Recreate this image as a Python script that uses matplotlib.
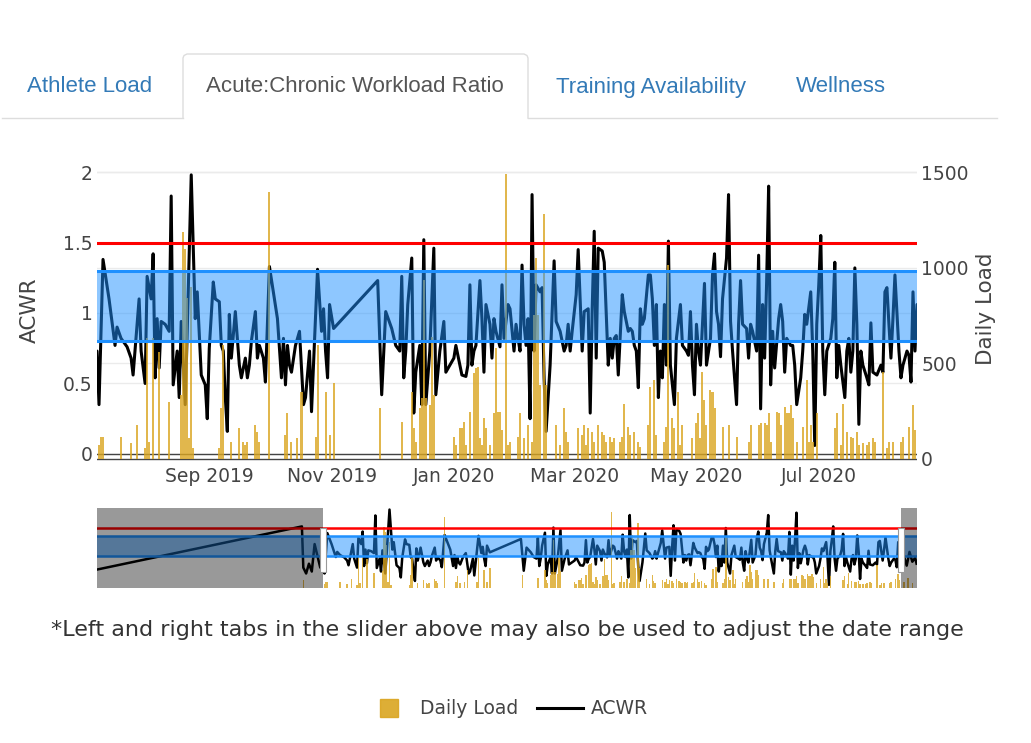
import numpy as np
import pandas as pd
import matplotlib
matplotlib.use('Agg')
import matplotlib.pyplot as plt
import matplotlib.dates as mdates
from matplotlib.patches import Rectangle
from matplotlib.lines import Line2D
from matplotlib.transforms import blended_transform_factory as blend

# dates are stored as day offsets from this base date
base_date = pd.Timestamp('2019-07-07')

acwr_days = [-160, -15, -14, -12, -10, -8, -6, -4, -2,
             0, 1, 3, 6, 9, 10, 12, 15, 17, 18, 21, 22, 24, 25, 27, 28, 29, 30, 31, 32,
             34, 36, 37, 38, 40, 41, 42, 44, 45, 47, 49, 50, 52, 54, 55, 56, 58, 59, 61, 62,
             63, 64, 65, 66, 67, 69, 71, 72, 74, 75, 76, 77, 79, 80, 81, 83, 84, 86, 90, 92,
             93, 94, 95, 96, 97, 99, 101, 103,
             104, 106, 107, 110, 112, 113, 114, 115, 116, 118, 140, 142, 144, 147, 149, 151,
             152, 153, 154, 155, 157, 158, 159, 161, 162, 163, 164, 166, 168, 169, 171, 173,
             174, 176, 178, 179, 181, 182, 184, 185, 186, 187, 188, 189, 191, 192, 193, 194,
             196, 197, 198, 199, 201, 202, 203, 205,
             206, 208, 209, 210, 211, 212, 213, 214, 215, 216, 217, 218, 219, 221, 222, 223,
             224, 226, 228, 229, 231, 233, 234, 235, 236, 237, 239, 240, 242, 243, 245, 246,
             247, 248, 249, 250, 252, 253, 255, 256, 257, 258, 259, 260, 262, 263, 265, 266,
             267, 268, 269, 270, 271, 272, 273, 275, 276, 277, 278, 279, 280, 281, 282, 283,
             284, 285, 286, 288, 289, 291, 292, 294, 295, 296, 297, 298, 299, 300, 301, 303,
             304, 306, 307,
             308, 309, 310, 311, 312, 314, 315, 316, 317, 319, 320, 321, 322, 324, 325, 326,
             327, 329, 330, 331, 332, 333, 334, 335, 336, 337, 338, 340, 341, 342, 343, 344,
             346, 347, 348, 349, 351, 352, 353, 354, 356, 357, 358, 359, 360, 361, 362, 363,
             364, 366, 367, 368, 369, 370, 371, 373, 374, 375, 376, 377, 378, 379, 380, 381,
             382, 384, 385, 386, 387, 389, 391, 392, 393, 394, 395, 396, 397, 398, 400, 401,
             402, 403, 404, 405, 406, 407, 408, 409, 411, 413, 415, 417, 419, 420]
acwr_vals = [0.45, 1.55, 0.50, 0.35, 0.60, 0.40, 1.10, 0.80, 0.50,
             0.73, 0.35, 1.38, 1.10, 0.77, 0.90, 0.82, 0.76, 0.68, 0.56, 1.10, 0.73, 0.50, 1.26,
             1.10, 1.42, 0.54, 0.96, 0.61, 0.94, 0.92, 0.87, 1.83, 0.49, 0.73, 0.40, 0.94, 0.35,
             0.87, 1.98, 0.96, 1.15, 0.56, 0.49, 0.25, 0.75, 1.22, 1.10, 1.08, 0.77, 0.73, 0.40,
             0.16, 0.99, 0.68, 1.01, 0.63, 0.54, 0.68, 0.54, 0.63, 0.80, 1.01, 0.68, 0.77, 0.68,
             0.51, 1.33, 0.96, 0.54, 0.82, 0.49, 0.77, 0.63, 0.58, 0.77, 0.87, 0.35,
             0.40, 0.73, 0.30, 1.31, 0.87, 1.03, 0.73, 0.54, 1.06, 0.89, 1.23, 0.42, 1.01, 0.89,
             0.77, 0.73, 1.26, 0.54, 0.73, 1.06, 1.39, 0.29, 0.58, 0.77, 0.35, 1.52, 0.35, 0.73,
             1.46, 0.42, 0.73, 0.94, 0.58, 0.63, 0.68, 0.77, 0.63, 0.56, 0.55, 0.63, 1.20, 0.63,
             0.73, 0.77, 1.23, 0.96, 0.58, 1.06, 0.92, 0.68, 0.96, 0.87, 0.76, 1.20, 0.82, 1.06,
             1.03, 0.73, 0.92, 0.82, 0.73, 1.34, 0.92, 0.77, 0.96, 0.25, 1.84, 0.73, 1.20, 1.15,
             1.18, 0.54, 0.16, 0.63, 1.37, 0.94, 0.87, 0.73, 0.77, 0.92, 0.73, 0.87, 1.13, 1.45,
             0.73, 1.01, 1.03, 0.29, 1.03, 1.58, 0.68, 1.46, 1.44, 1.36, 0.63, 0.82, 0.68, 0.82,
             0.84, 0.56, 1.13, 1.01, 0.87, 0.89, 0.87, 0.77, 0.73, 0.47, 1.03, 0.92, 0.96, 1.27,
             1.27, 1.10, 0.77, 1.06, 0.40, 0.73, 0.54, 1.06, 0.63, 1.51, 0.63, 0.35, 0.82, 1.06,
             0.77, 0.73, 0.70, 1.01, 0.63, 0.42, 0.92, 0.73, 0.63, 1.21, 0.63, 0.82, 1.27,
             1.42, 1.01, 0.92, 0.69, 1.10, 1.39, 1.84, 0.94, 0.73, 0.35, 0.92, 1.23, 0.92, 0.89,
             0.68, 0.92, 0.87, 0.73, 1.41, 0.32, 1.06, 0.68, 1.22, 1.90, 0.49, 0.87, 0.61, 0.96,
             1.06, 0.94, 0.58, 0.82, 0.77, 0.77, 0.63, 0.35, 0.54, 0.73, 0.99, 0.92, 1.15, 0.73,
             0.06, 0.92, 1.20, 1.55, 0.73, 0.42, 0.73, 0.82, 0.96, 1.36, 0.54, 0.77, 0.63, 0.40,
             0.73, 0.82, 0.58, 0.73, 1.32, 0.92, 0.21, 0.73, 0.63, 0.54, 0.49, 0.93, 0.58, 0.56,
             0.63, 0.58, 1.15, 1.18, 0.92, 0.68, 0.96, 1.27, 0.73, 0.54, 0.63, 0.68, 0.73, 0.70,
             0.51, 1.15, 0.73, 1.06, 0.80, 0.55, 0.90, 0.65, 0.75, 0.60]

load_days = [-14, 1, 2, 3, 12, 17, 20, 24, 25, 26, 28, 31, 36, 42, 43, 44, 45, 46, 47, 48,
             61, 62, 63, 67, 71, 73, 74, 75, 79, 80, 81, 86, 94, 95, 97, 100, 102,
             109, 110, 114, 116, 118, 141, 152, 157, 158, 159, 161, 162, 163, 164, 166, 167,
             168, 178, 179, 181, 182, 183, 184, 186, 188, 189, 190, 191, 192, 193, 194, 196,
             198, 199, 200, 201, 202, 204, 205,
             206, 210, 211, 213, 215, 217, 218, 219, 220, 221, 223, 224, 229, 231, 233, 234,
             235, 240, 242, 243, 244, 245, 247, 248, 250, 252, 253, 254, 256, 257, 258, 261,
             262, 263, 265, 266, 268, 270, 271, 275, 276, 278, 279, 283, 284, 285, 287, 288,
             290, 291, 292, 297, 299, 300, 301, 302, 303, 304, 306, 307,
             308, 312, 315, 319, 325, 326, 330, 331, 333, 334, 335, 336, 339, 340, 341, 343,
             344, 345, 346, 347, 349, 352, 354, 355, 356, 357, 359, 368, 369, 371, 372, 374,
             376, 377, 379, 380, 382, 384, 385, 387, 388, 392, 394, 395, 397, 401, 402, 405,
             407, 408, 411, 414, 417]
load_vals = [150, 75, 116, 116, 116, 82, 177, 55, 630, 90, 630, 560, 299, 334, 1188, 1100,
             840, 108, 900, 55, 55, 264, 595, 90, 160, 90, 73, 90, 177, 143, 90, 1397, 125,
             238, 90, 108, 351,
             116, 595, 351, 125, 395, 264, 195, 351, 160, 90, 264, 317, 935, 317, 282, 639,
             334, 116, 73, 160, 160, 195, 73, 247, 447, 473, 482, 108, 73, 212, 160, 73,
             238, 578, 247, 247, 151, 1492, 73,
             90, 116, 238, 108, 177, 90, 752, 1048, 752, 386, 1283, 386, 177, 73, 264, 143,
             90, 160, 125, 177, 73, 160, 143, 90, 177, 143, 125, 90, 116, 90, 108, 90,
             116, 290, 168, 125, 143, 90, 64, 177, 378, 413, 125, 90, 168, 1013, 212, 160,
             351, 73, 177, 108, 186, 238, 108, 456, 308, 177, 360, 351,
             264, 168, 177, 116, 90, 177, 177, 186, 186, 177, 238, 90, 247, 238, 177, 273,
             238, 238, 282, 212, 90, 168, 413, 90, 177, 90, 238, 160, 238, 73, 290, 143,
             116, 108, 143, 73, 82, 73, 90, 108, 90, 456, 55, 90, 90, 90, 116, 168,
             282, 151, 120, 200, 90]

view_start = '2019-07-07'
view_end = '2020-08-19'
x_tick_dates = ['2019-09-01', '2019-11-01', '2020-01-01', '2020-03-01', '2020-05-01', '2020-07-01']
x_tick_labels = ['Sep 2019', 'Nov 2019', 'Jan 2020', 'Mar 2020', 'May 2020', 'Jul 2020']
acwr_ticks = [0, 0.5, 1, 1.5, 2]
acwr_tick_labels = ['0', '0.5', '1', '1.5', '2']
load_ticks = [0, 500, 1000, 1500]
danger_level = 1.5
sweet_spot = (0.8, 1.3)
tabs = ['Athlete Load', 'Acute:Chronic Workload Ratio', 'Training Availability', 'Wellness']

W, H = 1031, 743
GOLD = '#DAA520'
BLUE = '#1E90FF'
TICK = '#444444'
FONT = 'DejaVu Sans'


def to_num(days):
    dates = base_date + pd.to_timedelta(days, unit='D')
    return mdates.date2num(dates.to_pydatetime())


def box(x0, y0, x1, y1):
    return [x0 / W, 1 - y1 / H, (x1 - x0) / W, (y1 - y0) / H]


acwr_x = to_num(acwr_days)
load_x = to_num(load_days)
xs, xe = mdates.datestr2num(view_start), mdates.datestr2num(view_end)

fig = plt.figure(figsize=(W / 100, H / 100), dpi=100)


def draw_panel(a1, a2, lw_line, lw_shape):
    a1.plot(acwr_x, acwr_vals, color='black', lw=lw_line, zorder=3, solid_joinstyle='round')
    a2.bar(load_x, load_vals, width=1.0, color=GOLD, alpha=0.8, lw=0, zorder=2)
    tr = blend(a2.transAxes, a1.transData)
    a2.add_patch(Rectangle((0, sweet_spot[0]), 1, sweet_spot[1] - sweet_spot[0],
                           transform=tr, facecolor=BLUE, alpha=0.5, lw=0, zorder=5))
    for v in sweet_spot:
        a2.plot([0, 1], [v, v], transform=tr, color=BLUE, lw=lw_shape, zorder=6)
    a2.plot([0, 1], [danger_level, danger_level], transform=tr, color='red', lw=lw_shape, zorder=6)
    for a in (a1, a2):
        for s in a.spines.values():
            s.set_visible(False)


# main chart
ax = fig.add_axes(box(97, 165, 917, 461))
ax2 = ax.twinx()
ax.set_ylim(-0.05, 2.05)
ax2.set_ylim(-10.5, 1536.6)
ax.set_xlim(xs, xe)
draw_panel(ax, ax2, 2.2, 2.2)

ax.set_yticks(acwr_ticks, acwr_tick_labels)
ax2.set_yticks(load_ticks, [str(t) for t in load_ticks])
ax.set_xticks(mdates.datestr2num(x_tick_dates), x_tick_labels)
ax.tick_params(axis='both', length=0, labelsize=13.5, labelcolor=TICK, pad=4)
ax.tick_params(axis='y', pad=3)
ax2.tick_params(axis='y', length=0, labelsize=13.5, labelcolor=TICK, pad=3)
ax.grid(axis='y', color='#ebebeb', lw=1)
ax.set_axisbelow(True)
gtr = blend(ax.transAxes, ax2.transData)
for v in load_ticks[1:]:
    ax.plot([0, 1], [v, v], transform=gtr, color='#ebebeb', lw=1, zorder=0.5)
ax.axhline(0, color=TICK, lw=1, zorder=1)
ax2.axhline(0, color=TICK, lw=1, zorder=1)
fig.text(30 / W, 1 - 310 / H, 'ACWR', rotation=90, ha='center', va='center',
         fontsize=15.5, color=TICK, family=FONT)
fig.text(986 / W, 1 - 309 / H, 'Daily Load', rotation=90, ha='center', va='center',
         fontsize=15.5, color=TICK, family=FONT)

# range slider
sax = fig.add_axes(box(97, 508, 917, 588))
sax2 = sax.twinx()
sx0, sx1 = acwr_x.min(), to_num([420.3])[0]
sax.set_xlim(sx0, sx1)
sax.set_ylim(-0.02, 2.02)
sax2.set_ylim(0, 1570)
draw_panel(sax, sax2, 1.8, 1.8)
for a in (sax, sax2):
    a.set_xticks([])
    a.set_yticks([])
mtr = blend(sax2.transData, sax2.transAxes)
sax2.add_patch(Rectangle((sx0, 0), xs - sx0, 1, transform=mtr, facecolor='black',
                         alpha=0.4, lw=0, zorder=8))
sax2.add_patch(Rectangle((xe, 0), sx1 - xe, 1, transform=mtr, facecolor='black',
                         alpha=0.4, lw=0, zorder=8))
hw = 6.5 * (sx1 - sx0) / 820
for hx in (xs, xe):
    sax2.add_patch(Rectangle((hx - hw / 2, 0.2), hw, 0.55, transform=mtr, facecolor='white',
                             edgecolor='#999999', lw=0.8, zorder=9, clip_on=False))

# tabs, note and legend drawn in pixel space
oax = fig.add_axes([0, 0, 1, 1], zorder=-1)
oax.set_xlim(0, W)
oax.set_ylim(H, 0)
oax.axis('off')
oax.plot([2, 183], [118, 118], color='#dddddd', lw=1)
oax.plot([528, 997], [118, 118], color='#dddddd', lw=1)
oax.plot([183, 183, 184, 187, 524, 527, 528, 528], [118, 58, 55.5, 54, 54, 55.5, 58, 118],
         color='#dddddd', lw=1)
tab_x = [90, 355, 651, 841]
for i, (t, x) in enumerate(zip(tabs, tab_x)):
    oax.text(x, 87, t, ha='center', va='center', fontsize=16, family='Liberation Sans',
             color='#555555' if i == 1 else '#337ab7')

oax.text(507, 630, '*Left and right tabs in the slider above may also be used to adjust the date range',
         ha='center', va='center', fontsize=16, color='#333333', family=FONT)

handles = [Line2D([], [], marker='s', ls='none', markersize=13, color=GOLD, alpha=0.9),
           Line2D([], [], color='black', lw=2.2)]
fig.legend(handles, ['Daily Load', 'ACWR'], loc='center', bbox_to_anchor=(507 / W, 1 - 709 / H),
           ncol=2, frameon=False, prop={'family': FONT, 'size': 13.5}, handlelength=2.45,
           handletextpad=0.43, columnspacing=0.96, labelcolor=TICK)

fig.savefig('out.png', dpi=100)
